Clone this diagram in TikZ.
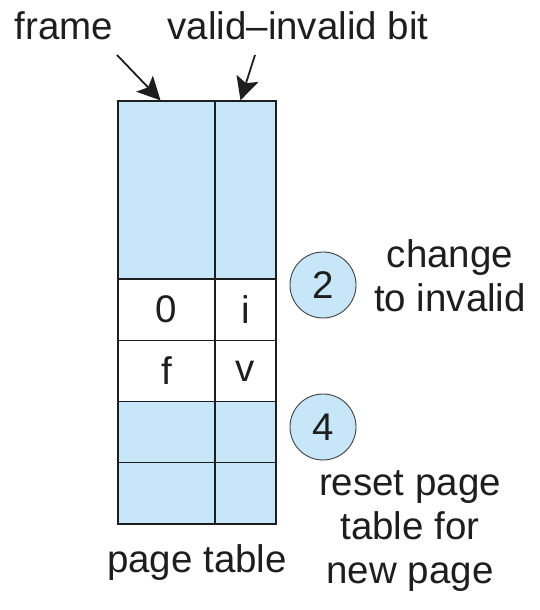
\documentclass[tikz,border=0pt]{standalone}
\usepackage{fontspec}
\setmainfont{Liberation Sans}
\usetikzlibrary{arrows.meta,positioning,calc}
\definecolor{tblue}{RGB}{199,230,248}
\definecolor{ink}{RGB}{30,30,30}

\begin{document}
\begin{tikzpicture}[x=1pt, y=1pt,
    every node/.style={font=\fontsize{38.5}{44}\selectfont, text=ink},
    cell/.style={draw=ink, line width=1.3pt, inner sep=0pt},
    stepnum/.style={circle, draw=ink!85, fill=tblue, line width=0.9pt, minimum size=66pt, inner sep=0pt},
    pointer/.style={line width=1.8pt, draw=ink, -{Stealth[length=23pt, width=23pt, inset=5pt]}}]
  \useasboundingbox (0,0) rectangle (539,610);
  % page table
  \node[cell, fill=tblue, minimum width=97pt, minimum height=178pt] (fr0) at (166.5,420) {};
  \node[cell, fill=tblue, minimum width=61pt, minimum height=178pt] (vb0) at (245.5,420) {};
  \foreach \i/\y/\fv/\bv/\fc in {1/300.4/0/i/white, 2/239.1/f/v/white, 3/177.9/{}/{}/tblue, 4/116.6/{}/{}/tblue} {
    \node[cell, fill=\fc, minimum width=97pt, minimum height=61.25pt] (fr\i) at (166.5,\y) {\fv};
    \node[cell, fill=\fc, minimum width=61pt, minimum height=61.25pt] (vb\i) at (245.5,\y) {\bv};
  }
  \node[anchor=base] (ptl) at (197,37) {page table};
  % labels on top
  \node[anchor=base] (frm) at (64,570) {frame};
  \node[anchor=base] (vib) at (298,570) {valid–invalid bit};
  \coordinate (fa) at (117,555);
  \coordinate (va) at (255,555);
  \draw[pointer] (fa) -- ([xshift=-6pt]fr0.north);
  \draw[pointer] (va) -- ([xshift=-5pt]vb0.north);
  % steps
  \node[stepnum] (s2) at (323,325) {2};
  \node[anchor=base, align=center] (chg) at (450,298) {change\\to invalid};
  \node[stepnum] (s4) at (323,183) {4};
  \node[anchor=base, align=center] (rst) at (410,26) {reset page\\table for\\new page};
\end{tikzpicture}
\end{document}
